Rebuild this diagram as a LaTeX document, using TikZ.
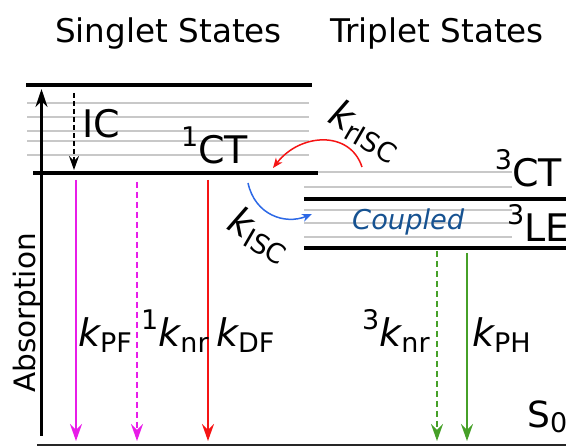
\documentclass[tikz,border=0pt]{standalone}
\usepackage{fontspec}
\setmainfont{DejaVu Sans}
\usetikzlibrary{arrows.meta}

\definecolor{pfmag}{RGB}{232,28,232}
\definecolor{dfred}{RGB}{245,20,20}
\definecolor{phgreen}{RGB}{70,160,40}
\definecolor{iscblue}{RGB}{45,105,230}
\definecolor{cplblue}{RGB}{22,82,145}
\definecolor{sublevel}{RGB}{200,200,200}

% text helpers: upper-left index, lower rate subscript, rate constant
\newcommand{\preidx}[1]{\raisebox{17pt}{\fontsize{27}{27}\selectfont #1}}
\newcommand{\rsub}[1]{\raisebox{-6pt}{\fontsize{27}{27}\selectfont #1}}
\newcommand{\rate}[1]{{\itshape k}\rsub{#1}}

\begin{document}
\begin{tikzpicture}[x=1pt,y=-1pt,
  level/.style={line width=4.5pt,black},
  vib/.style={line width=2.5pt,sublevel},
  ground/.style={line width=2pt,black!85},
  decay/.style={line width=2pt,-{Stealth[length=17pt,width=12pt,inset=6pt]}},
  dashdecay/.style={decay,dash pattern=on 6pt off 4pt},
  iscarc/.style={line width=1.5pt,-{Stealth[length=10pt,width=8pt,inset=3pt]}},
  title/.style={font=\fontsize{32.6}{36}\selectfont,anchor=base,inner sep=0pt},
  state/.style={font=\fontsize{38}{40}\selectfont,inner sep=0pt},
  ratelbl/.style={font=\fontsize{38}{40}\selectfont,anchor=base west,inner sep=0pt}
]
\useasboundingbox (0,0) rectangle (566,446);

% headings
\node[title] (hs) at (168.5,43) {Singlet States};
\node[title] (ht) at (437,43) {Triplet States};

% singlet manifold: vibrational sublevels and the two electronic levels
\foreach \yy in {103,117,131,141,155} \draw[vib] (27,\yy) -- (309,\yy);
\draw[level] (26,85) -- (312,85);
\draw[level] (33,173) -- (318,173);

% triplet manifold
\draw[vib] (318,172) -- (512,172);
\draw[vib] (304,187) -- (512,187);
\foreach \yy in {210,223,237} \draw[vib] (304,\yy) -- (512,\yy);
\draw[level] (304,199) -- (566,199);
\draw[level] (304,248) -- (566,248);

% ground state
\draw[ground] (37,445) -- (566,445);

% level labels
\node[state,anchor=base west] (ic) at (82,138) {IC};
\node[state,anchor=base west] (sct) at (181,164) {\preidx{1}CT};
\node[state,anchor=base east] (tct) at (562,187) {\preidx{3}CT};
\node[state,anchor=base west] (tle) at (507,242) {\preidx{3}LE};
\node[font=\fontsize{27.3}{30}\selectfont\itshape,text=cplblue,anchor=base west,inner sep=0pt] (cpl) at (352,230) {Coupled};
\node[font=\fontsize{36}{40}\selectfont,anchor=base west,inner sep=0pt] (s0) at (527,428) {S\raisebox{-5pt}{\fontsize{27}{27}\selectfont 0}};
\node[font=\fontsize{29.5}{32}\selectfont,anchor=base,rotate=90,inner sep=0pt] (abs) at (35,313) {Absorption};

% absorption and internal conversion
\coordinate (absbot) at (41.5,436);
\coordinate (abstop) at (41.5,89);
\draw[line width=2.5pt,-{Stealth[length=18pt,width=12pt,inset=6pt]}] (absbot) -- (abstop);
\coordinate (ictop) at (74,93);
\coordinate (icbot) at (74,170);
\draw[line width=2pt,dash pattern=on 5pt off 3pt,-{Stealth[length=14pt,width=10pt,inset=5pt]}] (ictop) -- (icbot);

% radiative and non-radiative decays to the ground state
\coordinate (pftop) at (76,180);   \coordinate (pfbot) at (76,441);
\coordinate (nrstop) at (137,182); \coordinate (nrsbot) at (137,441);
\coordinate (dftop) at (208,180);  \coordinate (dfbot) at (208,441);
\coordinate (nrttop) at (437,251); \coordinate (nrtbot) at (437,441);
\coordinate (phtop) at (467,253);  \coordinate (phbot) at (467,441);
\draw[decay,pfmag] (pftop) -- (pfbot);
\draw[dashdecay,pfmag] (nrstop) -- (nrsbot);
\draw[decay,dfred] (dftop) -- (dfbot);
\draw[dashdecay,phgreen] (nrttop) -- (nrtbot);
\draw[decay,phgreen] (phtop) -- (phbot);

\node[ratelbl] (kpf) at (78,347) {\rate{PF}};
\node[ratelbl] (knrs) at (141,347) {\preidx{1}\rate{nr}};
\node[ratelbl] (kdf) at (216,347) {\rate{DF}};
\node[ratelbl] (knrt) at (362,347) {\preidx{3}\rate{nr}};
\node[ratelbl] (kph) at (472,347) {\rate{PH}};

% intersystem crossing and its reverse
\coordinate (risca) at (362,167);
\coordinate (riscb) at (273,168);
\draw[iscarc,dfred] (risca) .. controls (350,130) and (300,133) .. (riscb);
\coordinate (isca) at (248,183);
\coordinate (iscb) at (312,214);
\draw[iscarc,iscblue] (isca) .. controls (255,215) and (285,225) .. (iscb);
\node[ratelbl,rotate=-30] (krisc) at (326,121) {\rate{rISC}};
\node[ratelbl,rotate=-30] (kisc) at (225,228) {\rate{ISC}};
\end{tikzpicture}
\end{document}
